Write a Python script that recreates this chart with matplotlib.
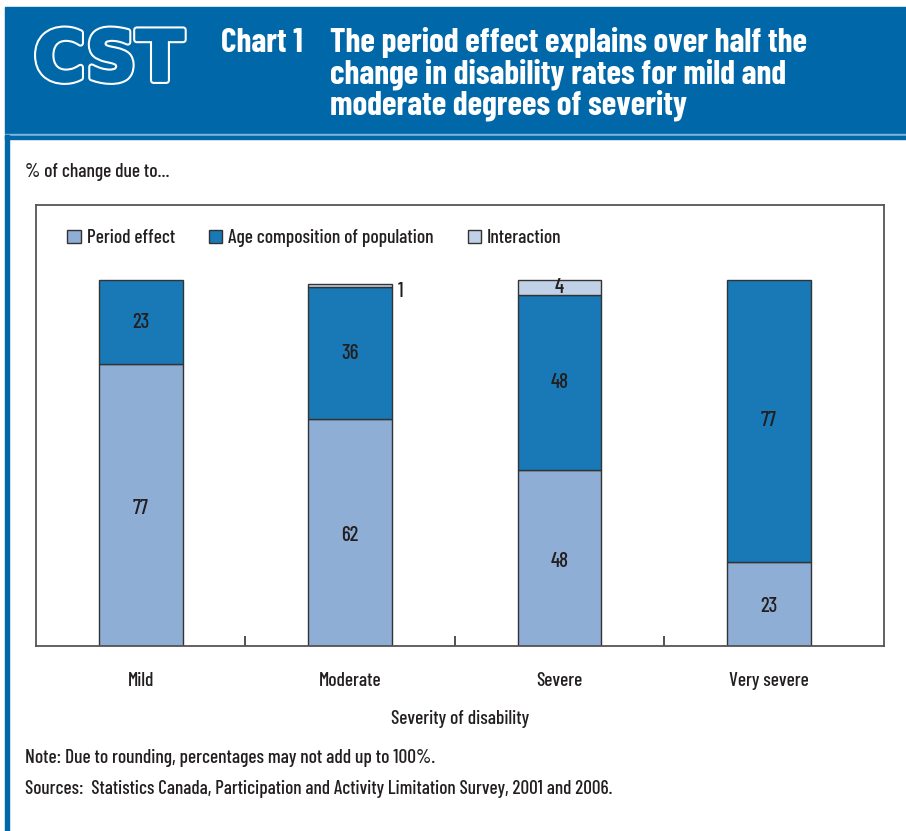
import matplotlib
matplotlib.use("Agg")
import matplotlib.pyplot as plt
import matplotlib.patheffects as pe
from matplotlib.patches import Rectangle, Patch
import numpy as np

# ---------- data ----------
categories = ["Mild", "Moderate", "Severe", "Very severe"]
period_effect = [77, 62, 48, 23]
age_composition = [23, 36, 48, 77]
interaction = [0, 1, 4, 0]
series_names = ["Period effect", "Age composition of population", "Interaction"]

C_PERIOD = "#8eaed6"
C_AGE = "#1879b6"
C_INTER = "#c0d0e6"
C_BAND = "#0068a8"
TXT = "#231f20"

W, H = 906, 831
plt.rcParams["font.family"] = ["Barlow Condensed", "Roboto Condensed",
                               "Archivo Narrow", "DejaVu Sans"]
plt.rcParams["font.weight"] = "medium"
plt.rcParams["axes.labelweight"] = "medium"

fig = plt.figure(figsize=(W / 100, H / 100), dpi=100)


def fx(px):
    return px / W


def fy(py):
    return 1 - py / H


# ---------- header band ----------
fig.patches.append(Rectangle((fx(5), fy(134)), 1, (134 - 7) / H,
                             transform=fig.transFigure, color=C_BAND, zorder=0))
fig.patches.append(Rectangle((fx(5), fy(135.5)), 1, 1.2 / H,
                             transform=fig.transFigure, color="#7fb4dc", zorder=0))
fig.patches.append(Rectangle((fx(5), fy(139)), 1, 3.5 / H,
                             transform=fig.transFigure, color=C_BAND, zorder=0))
# left stripe
fig.patches.append(Rectangle((fx(5), 0), 4 / W, fy(135),
                             transform=fig.transFigure, color=C_BAND, zorder=0))

# CST logo (outlined letters)
fig.text(fx(34), fy(61), "CST", fontsize=50, fontweight="bold", family="DejaVu Sans",
         color=C_BAND, va="center", ha="left",
         path_effects=[pe.withStroke(linewidth=5, foreground="white"),
                       pe.withStroke(linewidth=2, foreground=C_BAND)])

fig.text(fx(221), fy(43), "Chart 1", fontsize=24, fontweight="bold", color="white",
         va="center", ha="left")
title_lines = ["The period effect explains over half the",
               "change in disability rates for mild and",
               "moderate degrees of severity"]
for i, line in enumerate(title_lines):
    fig.text(fx(330), fy(43 + i * 31), line, fontsize=24, fontweight="bold",
             color="white", va="center", ha="left")

fig.text(fx(25), fy(172), "% of change due to...", fontsize=14, color=TXT, va="center")

# ---------- chart ----------
ax = fig.add_axes([fx(36), fy(646), (884 - 36) / W, (646 - 205) / H])
x = np.arange(len(categories))
bw = 0.4
ax.bar(x, period_effect, bw, color=C_PERIOD, edgecolor="#333333", linewidth=1)
ax.bar(x, age_composition, bw, bottom=period_effect, color=C_AGE,
       edgecolor="#333333", linewidth=1)
bottom2 = [p + a for p, a in zip(period_effect, age_composition)]
for i, v in enumerate(interaction):
    if v > 0:
        ax.bar(x[i], v, bw, bottom=bottom2[i], color=C_INTER,
               edgecolor="#333333", linewidth=1)

for i in range(len(categories)):
    ax.text(x[i], period_effect[i] / 2 - 0.8, str(period_effect[i]), ha="center",
            va="center", fontsize=15, color=TXT)
    ax.text(x[i], period_effect[i] + age_composition[i] / 2, str(age_composition[i]),
            ha="center", va="center", fontsize=15, color=TXT)
    v = interaction[i]
    if v >= 3:
        ax.text(x[i], bottom2[i] + v / 2, str(v), ha="center", va="center",
                fontsize=15, color=TXT)
    elif v > 0:
        ax.text(x[i] + bw / 2 + 0.03, bottom2[i] + v / 2 - 1.5, str(v), ha="left",
                va="center", fontsize=15, color=TXT)

ax.set_xlim(-0.5, len(categories) - 0.45)
ax.set_ylim(0, 120.5)
ax.set_yticks([])
ax.set_xticks(x)
ax.set_xticklabels(categories, fontsize=14, color=TXT)
ax.tick_params(axis="x", which="major", length=0, pad=19)
ax.set_xticks(x[:-1] + 0.5, minor=True)
ax.tick_params(axis="x", which="minor", direction="in", length=7, width=1.2,
               color="#333333")
for s in ax.spines.values():
    s.set_color("#555555")
    s.set_linewidth(1.3)
ax.set_xlabel("Severity of disability", fontsize=14, color=TXT, labelpad=14)

handles = [Patch(facecolor=c, edgecolor="#333333", linewidth=1)
           for c in (C_PERIOD, C_AGE, C_INTER)]
leg = ax.legend(handles, series_names, loc="upper left", ncol=3, frameon=False,
                bbox_to_anchor=(0.016, 0.985), fontsize=14, handlelength=0.7,
                handleheight=0.7, handletextpad=0.3, columnspacing=1.75)
for t in leg.get_texts():
    t.set_color(TXT)

fig.text(fx(25), fy(758), "Note: Due to rounding, percentages may not add up to 100%.",
         fontsize=14, color=TXT, va="center")
fig.text(fx(25), fy(789),
         "Sources:  Statistics Canada, Participation and Activity Limitation Survey, 2001 and 2006.",
         fontsize=13.8, color=TXT, va="center")

fig.savefig("out.png", dpi=100)
